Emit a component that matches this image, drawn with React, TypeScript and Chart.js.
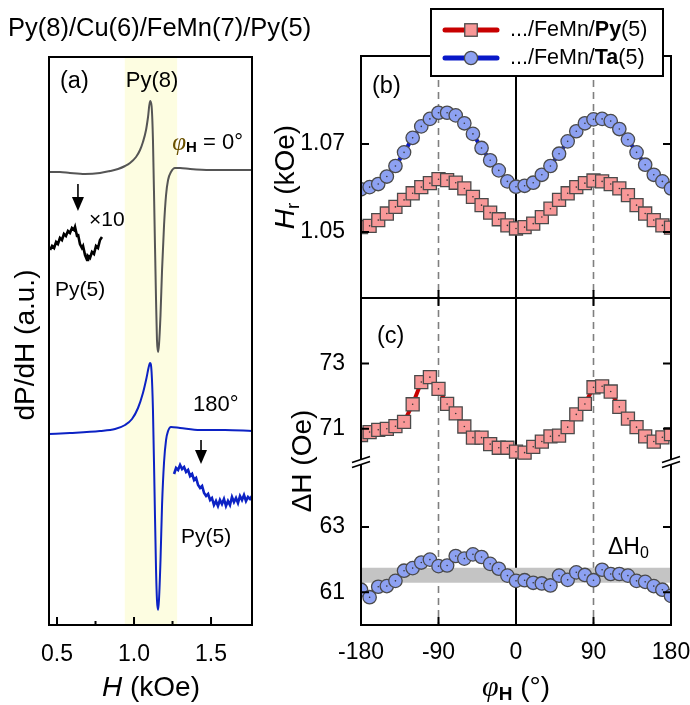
import React, { useEffect, useRef } from "react";
import { Chart, registerables } from "chart.js";

Chart.register(...registerables);

const W = 690;
const H = 705;
const SANS = "'Liberation Sans', Arial, Helvetica, sans-serif";
const SERIF = "'Liberation Serif', 'Times New Roman', serif";
const f = (size: number, style = "") => `${style} ${size}px ${SANS}`.trim();
const fs = (size: number, style = "") => `${style} ${size}px ${SERIF}`.trim();

// ---------------- Panel (a): FMR spectra ----------------
const spec0H = [0.448, 0.519, 0.584, 0.682, 0.779, 0.844, 0.896, 0.942, 0.974, 1.013, 1.039, 1.058, 1.078, 1.091, 1.104, 1.114, 1.123, 1.133, 1.143, 1.149, 1.156, 1.162, 1.172, 1.182, 1.195, 1.208, 1.221, 1.24, 1.266, 1.299, 1.364, 1.494, 1.623, 1.766];
const spec0S = [453, 453, 452, 451, 452, 454, 456, 459, 462, 468, 475, 483, 495, 508, 524, 519, 485, 405, 325, 285, 273, 280, 310, 355, 400, 430, 445, 453, 457, 457, 456, 455, 455, 455];

const spec180H = [0.448, 0.584, 0.779, 0.877, 0.942, 0.987, 1.026, 1.058, 1.081, 1.094, 1.104, 1.114, 1.123, 1.133, 1.143, 1.149, 1.156, 1.162, 1.172, 1.182, 1.195, 1.208, 1.221, 1.24, 1.299, 1.429, 1.591, 1.766];
const spec180S = [191, 192, 194, 196, 200, 206, 217, 232, 247, 257, 262, 253, 215, 135, 55, 25, 15, 25, 65, 120, 163, 185, 194, 198, 197, 195, 195, 194];

const inset0H = [0.455, 0.468, 0.481, 0.494, 0.506, 0.519, 0.532, 0.545, 0.558, 0.571, 0.584, 0.597, 0.61, 0.617, 0.63, 0.636, 0.649, 0.662, 0.669, 0.682, 0.695, 0.701, 0.714, 0.727, 0.74, 0.753, 0.766, 0.779, 0.792];
const inset0S = [375, 379, 377, 383, 381, 387, 385, 391, 389, 394, 392, 397, 395, 398, 389, 391, 381, 377, 379, 370, 365, 369, 367, 373, 371, 379, 377, 385, 388];

const inset180H = [1.26, 1.273, 1.286, 1.299, 1.312, 1.325, 1.338, 1.351, 1.364, 1.377, 1.39, 1.403, 1.416, 1.429, 1.442, 1.455, 1.468, 1.481, 1.494, 1.506, 1.519, 1.532, 1.545, 1.558, 1.571, 1.584, 1.597, 1.61, 1.623, 1.636, 1.649, 1.662, 1.675, 1.688, 1.701, 1.714, 1.727, 1.74, 1.753, 1.766];
const inset180S = [151, 157, 155, 160, 156, 158, 153, 155, 149, 151, 145, 147, 140, 137, 139, 132, 129, 131, 125, 127, 120, 124, 119, 125, 121, 126, 119, 124, 120, 128, 123, 127, 122, 129, 125, 130, 124, 128, 126, 129];

const aRange = [0.448, 1.766];
const aSignalRange = [0, 568];
const aTicks = [0.5, 1.0, 1.5];
const aMinorTicks = [0.75, 1.25];
const py8Band = [0.94, 1.28];
const arrowH = [0.636, 1.435];
const arrowTopS = [441, 185];
const arrowTipS = [414, 161];

// ---------------- Panels (b), (c) ----------------
const phi = [-180, -170, -160, -150, -140, -130, -120, -110, -100, -90, -80, -70, -60, -50, -40, -30, -20, -10, 0, 10, 20, 30, 40, 50, 60, 70, 80, 90, 100, 110, 120, 130, 140, 150, 160, 170, 180];

const hrPy = [1.0511, 1.0514, 1.0527, 1.0542, 1.0557, 1.0573, 1.0588, 1.0602, 1.0611, 1.062, 1.0618, 1.0612, 1.0599, 1.058, 1.0561, 1.0544, 1.0529, 1.0515, 1.0508, 1.0511, 1.0519, 1.0534, 1.0553, 1.0573, 1.0588, 1.0602, 1.0611, 1.0617, 1.0615, 1.0609, 1.0599, 1.0584, 1.0561, 1.0542, 1.0527, 1.0515, 1.051];
const hrTa = [1.0597, 1.0602, 1.0609, 1.0626, 1.065, 1.0681, 1.0714, 1.074, 1.0757, 1.0771, 1.0771, 1.0765, 1.0747, 1.0723, 1.0691, 1.0663, 1.064, 1.0615, 1.0603, 1.0605, 1.0612, 1.063, 1.065, 1.0678, 1.0706, 1.0729, 1.0747, 1.0756, 1.0757, 1.0752, 1.0734, 1.071, 1.0681, 1.0653, 1.063, 1.0615, 1.0599];

const dhPy = [70.81, 70.9, 70.97, 71.0, 71.08, 71.21, 71.75, 72.43, 72.58, 72.22, 71.76, 71.47, 71.07, 70.73, 70.73, 70.53, 70.42, 70.42, 70.3, 70.27, 70.45, 70.61, 70.77, 70.79, 71.05, 71.44, 71.76, 72.27, 72.3, 72.14, 71.67, 71.31, 71.05, 70.77, 70.61, 70.74, 70.84];
const dhTa = [61.08, 60.85, 61.17, 61.19, 61.35, 61.66, 61.74, 61.91, 62.0, 61.8, 61.82, 62.11, 62.03, 62.16, 62.08, 61.87, 61.72, 61.51, 61.35, 61.37, 61.29, 61.27, 61.21, 61.51, 61.38, 61.61, 61.53, 61.37, 61.69, 61.56, 61.56, 61.51, 61.35, 61.32, 61.19, 61.08, 60.89];
const dh0Band = [61.29, 61.75];

const phiRange = [-180, 180];
const phiTicks = [-180, -90, 0, 90, 180];
const phiInnerTicks = [-90, 0, 90];
const dashedPhi = [-90, 90];
const solidPhi = [0];
const hrRange = [1.035, 1.09];
const hrTicks = [1.05, 1.07];
const dhRange = [60, 75];
const dhBreak = [65, 70];
const dhTicks = [61, 63, 71, 73];

const legendNames = [
  [".../FeMn/", "Py", "(5)"],
  [".../FeMn/", "Ta", "(5)"],
];

// ---------------- styles ----------------
const RED_LINE = "#c80000";
const RED_FILL = "#f89898";
const BLUE_LINE = "#0818c8";
const BLUE_FILL = "#8da1f2";
const EDGE = "#4a4a4a";
const SPEC_GRAY = "#555555";
const SPEC_BLUE = "#0c22c4";
const SQ_R = 9.2;
const CI_R = 6.7;
const AXIS_T = 28;

const gap = dhBreak[1] - dhBreak[0];
const toDhAxis = (v: number) => (v >= dhBreak[1] ? v - gap : v);

type Part = { t: string; font: string; dy?: number; color?: string };

function rich(ctx: CanvasRenderingContext2D, parts: Part[], x: number, y: number, align = "left", color = "#000") {
  ctx.save();
  ctx.textBaseline = "middle";
  ctx.textAlign = "left";
  let w = 0;
  for (const p of parts) {
    ctx.font = p.font;
    w += ctx.measureText(p.t).width;
  }
  let cx = align === "left" ? x : align === "center" ? x - w / 2 : x - w;
  for (const p of parts) {
    ctx.font = p.font;
    ctx.fillStyle = p.color || color;
    ctx.fillText(p.t, cx, y + (p.dy || 0));
    cx += ctx.measureText(p.t).width;
  }
  ctx.restore();
}

function rotRich(ctx: CanvasRenderingContext2D, parts: Part[], x: number, y: number) {
  ctx.save();
  ctx.translate(x, y);
  ctx.rotate(-Math.PI / 2);
  rich(ctx, parts, 0, 0, "center");
  ctx.restore();
}

function frame(ctx: CanvasRenderingContext2D, a: any) {
  ctx.save();
  ctx.strokeStyle = "#000";
  ctx.lineWidth = 2;
  ctx.strokeRect(a.left, a.top, a.right - a.left, a.bottom - a.top);
  ctx.restore();
}

function xTicks(ctx: CanvasRenderingContext2D, a: any, sx: any, values: number[], len: number, top: boolean, bottom: boolean) {
  ctx.save();
  ctx.strokeStyle = "#000";
  ctx.lineWidth = 2;
  ctx.beginPath();
  for (const v of values) {
    const px = sx.getPixelForValue(v);
    if (bottom) {
      ctx.moveTo(px, a.bottom);
      ctx.lineTo(px, a.bottom - len);
    }
    if (top) {
      ctx.moveTo(px, a.top);
      ctx.lineTo(px, a.top + len);
    }
  }
  ctx.stroke();
  ctx.restore();
}

function yTicks(ctx: CanvasRenderingContext2D, a: any, sy: any, values: number[], len: number) {
  ctx.save();
  ctx.strokeStyle = "#000";
  ctx.lineWidth = 2;
  ctx.beginPath();
  for (const v of values) {
    const py = sy.getPixelForValue(v);
    ctx.moveTo(a.left, py);
    ctx.lineTo(a.left + len, py);
    ctx.moveTo(a.right, py);
    ctx.lineTo(a.right - len, py);
  }
  ctx.stroke();
  ctx.restore();
}

function arrowDown(ctx: CanvasRenderingContext2D, x: number, y0: number, y1: number) {
  ctx.save();
  ctx.strokeStyle = "#000";
  ctx.fillStyle = "#000";
  ctx.lineWidth = 1.6;
  ctx.beginPath();
  ctx.moveTo(x, y0);
  ctx.lineTo(x, y1 - 12);
  ctx.stroke();
  ctx.beginPath();
  ctx.moveTo(x - 6, y1 - 14);
  ctx.lineTo(x + 6, y1 - 14);
  ctx.lineTo(x, y1);
  ctx.closePath();
  ctx.fill();
  ctx.restore();
}

function vlines(chart: any) {
  const { ctx, chartArea: a, scales } = chart;
  const sx = scales.x;
  ctx.save();
  ctx.strokeStyle = "#7f7f7f";
  ctx.lineWidth = 1.6;
  ctx.setLineDash([7, 5]);
  ctx.beginPath();
  for (const v of dashedPhi) {
    const px = sx.getPixelForValue(v);
    ctx.moveTo(px, a.top);
    ctx.lineTo(px, a.bottom);
  }
  ctx.stroke();
  ctx.setLineDash([]);
  ctx.strokeStyle = "#000";
  ctx.lineWidth = 2;
  ctx.beginPath();
  for (const v of solidPhi) {
    const px = sx.getPixelForValue(v);
    ctx.moveTo(px, a.top);
    ctx.lineTo(px, a.bottom);
  }
  ctx.stroke();
  ctx.restore();
}

function drawSquare(ctx: CanvasRenderingContext2D, x: number, y: number, s: number) {
  ctx.fillStyle = RED_FILL;
  ctx.strokeStyle = EDGE;
  ctx.lineWidth = 1.3;
  ctx.fillRect(x - s / 2, y - s / 2, s, s);
  ctx.strokeRect(x - s / 2, y - s / 2, s, s);
}

function drawCircle(ctx: CanvasRenderingContext2D, x: number, y: number, r: number) {
  ctx.fillStyle = BLUE_FILL;
  ctx.strokeStyle = EDGE;
  ctx.lineWidth = 1.3;
  ctx.beginPath();
  ctx.arc(x, y, r, 0, Math.PI * 2);
  ctx.fill();
  ctx.stroke();
}

const noInteract = {
  animation: false as const,
  responsive: false,
  events: [] as any[],
  plugins: { legend: { display: false }, tooltip: { enabled: false } },
};

const tickFont = { family: SANS, size: 23 };

// ---------------- Chart A ----------------
function configA(): any {
  const pluginA = {
    id: "panelA",
    beforeDatasetsDraw(chart: any) {
      const { ctx, chartArea: a, scales } = chart;
      const x0 = scales.x.getPixelForValue(py8Band[0]);
      const x1 = scales.x.getPixelForValue(py8Band[1]);
      ctx.save();
      ctx.fillStyle = "#fdfde1";
      ctx.fillRect(x0, a.top, x1 - x0, a.bottom - a.top);
      ctx.restore();
    },
    afterDatasetsDraw(chart: any) {
      const { ctx, chartArea: a, scales } = chart;
      frame(ctx, a);
      xTicks(ctx, a, scales.x, aTicks, 8, false, true);
      xTicks(ctx, a, scales.x, aMinorTicks, 4, false, true);
      for (let i = 0; i < arrowH.length; i++) {
        arrowDown(ctx, scales.x.getPixelForValue(arrowH[i]), scales.y.getPixelForValue(arrowTopS[i]), scales.y.getPixelForValue(arrowTipS[i]));
      }
      rich(ctx, [{ t: "Py(8)/Cu(6)/FeMn(7)/Py(5)", font: f(25.5) }], 8, 29);
      rich(ctx, [{ t: "(a)", font: f(23.5) }], 60, 82);
      rich(ctx, [{ t: "Py(8)", font: f(22) }], 152, 81, "center");
      rich(ctx, [
        { t: "φ", font: fs(25, "italic"), color: "#6b5200" },
        { t: "H", font: f(15, "bold"), dy: 5 },
        { t: " = 0°", font: f(22) },
      ], 243, 143, "right");
      rich(ctx, [{ t: "×10", font: f(21) }], 89, 220);
      rich(ctx, [{ t: "Py(5)", font: f(21) }], 55, 290);
      rich(ctx, [{ t: "180°", font: f(22) }], 193, 405);
      rich(ctx, [{ t: "Py(5)", font: f(21) }], 181, 537);
      rotRich(ctx, [{ t: "dP/dH (a.u.)", font: f(AXIS_T) }], 26, 345);
      rich(ctx, [{ t: "H", font: f(AXIS_T, "italic") }, { t: " (kOe)", font: f(AXIS_T) }], 151, 688, "center");
    },
  };
  const pts = (xs: number[], ys: number[]) => xs.map((x, i) => ({ x, y: ys[i] }));
  return {
    type: "line",
    data: {
      datasets: [
        { data: pts(spec0H, spec0S), borderColor: SPEC_GRAY, borderWidth: 2, pointRadius: 0, cubicInterpolationMode: "monotone" },
        { data: pts(spec180H, spec180S), borderColor: SPEC_BLUE, borderWidth: 2, pointRadius: 0, cubicInterpolationMode: "monotone" },
        { data: pts(inset0H, inset0S), borderColor: "#000", borderWidth: 2.6, pointRadius: 0, tension: 0 },
        { data: pts(inset180H, inset180S), borderColor: SPEC_BLUE, borderWidth: 2.6, pointRadius: 0, tension: 0 },
      ],
    },
    options: {
      ...noInteract,
      layout: { padding: { left: 49, right: W - 252, top: 57, bottom: 0 } },
      scales: {
        x: {
          type: "linear",
          min: aRange[0],
          max: aRange[1],
          grid: { display: false },
          border: { display: false },
          afterBuildTicks: (s: any) => {
            s.ticks = aTicks.map((v) => ({ value: v }));
          },
          afterFit: (s: any) => {
            s.height = 80;
            s.paddingLeft = 0;
            s.paddingRight = 0;
          },
          ticks: { font: tickFont, color: "#000", padding: 8, maxRotation: 0, autoSkip: false, callback: (v: any) => Number(v).toFixed(1) },
        },
        y: { type: "linear", min: aSignalRange[0], max: aSignalRange[1], display: false },
      },
    },
    plugins: [pluginA],
  };
}

// ---------------- Chart B ----------------
function configB(): any {
  const pluginB = {
    id: "panelB",
    beforeDatasetsDraw(chart: any) {
      vlines(chart);
    },
    afterDatasetsDraw(chart: any) {
      const { ctx, chartArea: a, scales } = chart;
      frame(ctx, a);
      yTicks(ctx, a, scales.y, hrTicks, 8);
      xTicks(ctx, a, scales.x, phiInnerTicks, 8, true, true);
      // legend
      ctx.save();
      ctx.fillStyle = "#fff";
      ctx.strokeStyle = "#000";
      ctx.lineWidth = 2;
      ctx.fillRect(431, 9, 232, 67);
      ctx.strokeRect(431, 9, 232, 67);
      const rows = [30, 58];
      const colors = [RED_LINE, BLUE_LINE];
      for (let i = 0; i < 2; i++) {
        ctx.strokeStyle = colors[i];
        ctx.lineWidth = 5;
        ctx.lineCap = "round";
        ctx.beginPath();
        ctx.moveTo(445, rows[i]);
        ctx.lineTo(497, rows[i]);
        ctx.stroke();
        if (i === 0) drawSquare(ctx, 471, rows[i], 12.5);
        else drawCircle(ctx, 471, rows[i], 6.6);
        rich(ctx, [
          { t: legendNames[i][0], font: f(21.5) },
          { t: legendNames[i][1], font: f(21.5, "bold") },
          { t: legendNames[i][2], font: f(21.5) },
        ], 510, rows[i]);
      }
      ctx.restore();
      rich(ctx, [{ t: "(b)", font: f(23.5) }], 372, 87);
      rotRich(ctx, [
        { t: "H", font: f(AXIS_T, "italic") },
        { t: "r", font: f(19), dy: 8 },
        { t: " (kOe)", font: f(AXIS_T) },
      ], 286, 177);
    },
  };
  const pts = (ys: number[]) => phi.map((x, i) => ({ x, y: ys[i] }));
  return {
    type: "line",
    data: {
      datasets: [
        { data: pts(hrPy), borderColor: RED_LINE, borderWidth: 4, pointStyle: "rect", pointRadius: SQ_R, pointBackgroundColor: RED_FILL, pointBorderColor: EDGE, pointBorderWidth: 1.3 },
        { data: pts(hrTa), borderColor: BLUE_LINE, borderWidth: 4, pointStyle: "circle", pointRadius: CI_R, pointBackgroundColor: BLUE_FILL, pointBorderColor: EDGE, pointBorderWidth: 1.3 },
        { data: pts(hrPy), showLine: false, pointRadius: 0.8, pointBackgroundColor: "#333", pointBorderWidth: 0, order: -1 },
        { data: pts(hrTa), showLine: false, pointRadius: 0.8, pointBackgroundColor: "#333", pointBorderWidth: 0, order: -1 },
      ],
    },
    options: {
      ...noInteract,
      layout: { padding: { left: 301, right: W - 671, top: 56, bottom: H - 298 } },
      scales: {
        x: { type: "linear", min: phiRange[0], max: phiRange[1], display: false },
        y: {
          type: "linear",
          min: hrRange[0],
          max: hrRange[1],
          grid: { display: false },
          border: { display: false },
          afterBuildTicks: (s: any) => {
            s.ticks = hrTicks.map((v) => ({ value: v }));
          },
          afterFit: (s: any) => {
            s.width = 60;
            s.paddingTop = 0;
            s.paddingBottom = 0;
          },
          ticks: { font: tickFont, color: "#000", padding: 8, callback: (v: any) => Number(v).toFixed(2) },
        },
      },
    },
    plugins: [pluginB],
  };
}

// ---------------- Chart C ----------------
function configC(): any {
  const pluginC = {
    id: "panelC",
    beforeDatasetsDraw(chart: any) {
      vlines(chart);
    },
    afterDatasetsDraw(chart: any) {
      const { ctx, chartArea: a, scales } = chart;
      frame(ctx, a);
      yTicks(ctx, a, scales.y, dhTicks.map(toDhAxis), 8);
      xTicks(ctx, a, scales.x, phiTicks, 8, false, true);
      xTicks(ctx, a, scales.x, phiInnerTicks, 8, true, false);
      // axis break marks
      const yb = scales.y.getPixelForValue(dhBreak[0]);
      ctx.save();
      for (const xb of [a.left, a.right]) {
        ctx.fillStyle = "#fff";
        ctx.beginPath();
        ctx.moveTo(xb - 9, yb + 1);
        ctx.lineTo(xb + 9, yb - 5);
        ctx.lineTo(xb + 9, yb + 0);
        ctx.lineTo(xb - 9, yb + 6);
        ctx.closePath();
        ctx.fill();
        ctx.strokeStyle = "#000";
        ctx.lineWidth = 1.8;
        ctx.beginPath();
        ctx.moveTo(xb - 9, yb + 1);
        ctx.lineTo(xb + 9, yb - 5);
        ctx.moveTo(xb - 9, yb + 6);
        ctx.lineTo(xb + 9, yb + 0);
        ctx.stroke();
      }
      ctx.restore();
      rich(ctx, [{ t: "(c)", font: f(23.5) }], 377, 337);
      rich(ctx, [{ t: "ΔH", font: f(23) }, { t: "0", font: f(16), dy: 6 }], 608, 548);
      rotRich(ctx, [{ t: "ΔH (Oe)", font: f(AXIS_T) }], 303, 461);
      rich(ctx, [
        { t: "φ", font: fs(30, "italic") },
        { t: "H", font: f(19, "bold"), dy: 7 },
        { t: " (°)", font: f(AXIS_T) },
      ], 516, 688, "center");
    },
  };
  const pts = (ys: number[]) => phi.map((x, i) => ({ x, y: toDhAxis(ys[i]) }));
  return {
    type: "line",
    data: {
      datasets: [
        { data: [{ x: phiRange[0], y: dh0Band[1] }, { x: phiRange[1], y: dh0Band[1] }], fill: { value: dh0Band[0] }, backgroundColor: "#c4c4c4", borderWidth: 0, pointRadius: 0, order: 10 },
        { data: pts(dhPy), borderColor: RED_LINE, borderWidth: 4, pointStyle: "rect", pointRadius: SQ_R, pointBackgroundColor: RED_FILL, pointBorderColor: EDGE, pointBorderWidth: 1.3 },
        { data: pts(dhTa), borderColor: BLUE_LINE, borderWidth: 4, pointStyle: "circle", pointRadius: CI_R, pointBackgroundColor: BLUE_FILL, pointBorderColor: EDGE, pointBorderWidth: 1.3 },
        { data: pts(dhPy), showLine: false, pointRadius: 0.8, pointBackgroundColor: "#333", pointBorderWidth: 0, order: -1 },
        { data: pts(dhTa), showLine: false, pointRadius: 0.8, pointBackgroundColor: "#333", pointBorderWidth: 0, order: -1 },
      ],
    },
    options: {
      ...noInteract,
      layout: { padding: { left: 301, right: W - 671, top: 298, bottom: 0 } },
      scales: {
        x: {
          type: "linear",
          min: phiRange[0],
          max: phiRange[1],
          grid: { display: false },
          border: { display: false },
          afterBuildTicks: (s: any) => {
            s.ticks = phiTicks.map((v) => ({ value: v }));
          },
          afterFit: (s: any) => {
            s.height = 80;
            s.paddingLeft = 0;
            s.paddingRight = 0;
          },
          ticks: { font: tickFont, color: "#000", padding: 6, maxRotation: 0, autoSkip: false, callback: (v: any) => String(v) },
        },
        y: {
          type: "linear",
          min: dhRange[0],
          max: toDhAxis(dhRange[1]),
          grid: { display: false },
          border: { display: false },
          afterBuildTicks: (s: any) => {
            s.ticks = dhTicks.map((v) => ({ value: toDhAxis(v) }));
          },
          afterFit: (s: any) => {
            s.width = 60;
            s.paddingTop = 0;
            s.paddingBottom = 0;
          },
          ticks: { font: tickFont, color: "#000", padding: 8, callback: (v: any) => String(Math.round(v > dhBreak[0] ? v + gap : v)) },
        },
      },
    },
    plugins: [pluginC],
  };
}

export default function App() {
  const refA = useRef<HTMLCanvasElement>(null);
  const refB = useRef<HTMLCanvasElement>(null);
  const refC = useRef<HTMLCanvasElement>(null);
  useEffect(() => {
    const charts = [
      new Chart(refA.current!, configA()),
      new Chart(refC.current!, configC()),
      new Chart(refB.current!, configB()),
    ];
    return () => charts.forEach((c) => c.destroy());
  }, []);
  const st: React.CSSProperties = { position: "absolute", left: 0, top: 0, display: "block" };
  return (
    <div style={{ position: "fixed", left: 0, top: 0, width: W, height: H, background: "#fff" }}>
      <canvas ref={refA} width={W} height={H} style={st} />
      <canvas ref={refC} width={W} height={H} style={st} />
      <canvas ref={refB} width={W} height={H} style={st} />
    </div>
  );
}
